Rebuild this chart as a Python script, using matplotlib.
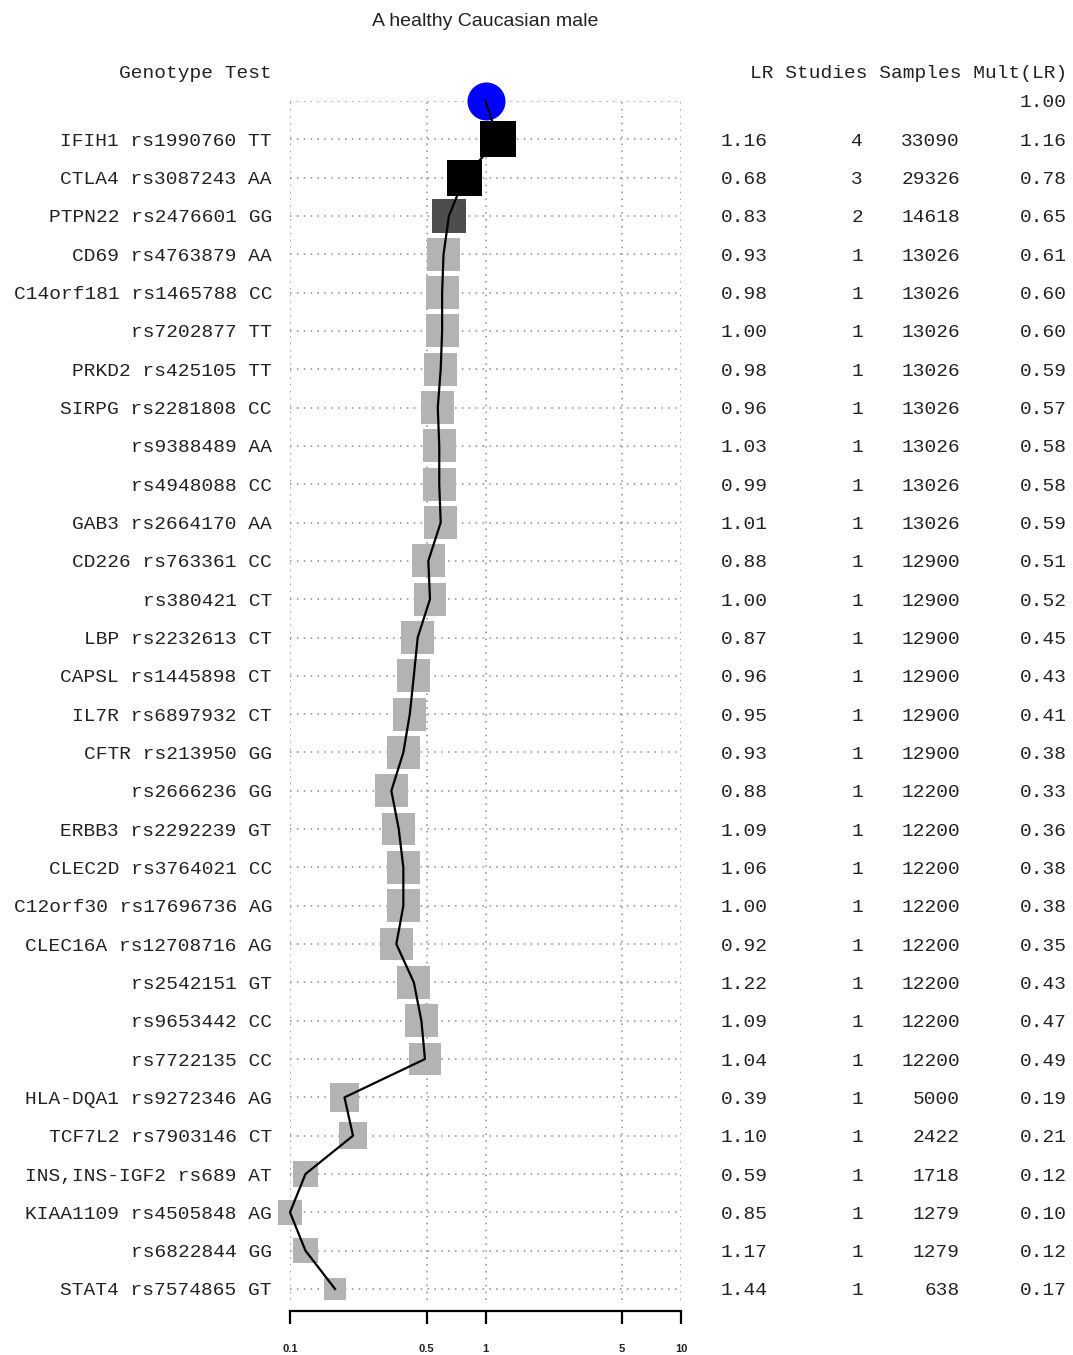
import numpy as np
import matplotlib.pyplot as plt
import matplotlib.transforms as mtransforms

genes = ["IFIH1", "CTLA4", "PTPN22", "CD69", "C14orf181", "", "PRKD2", "SIRPG", "", "",
         "GAB3", "CD226", "", "LBP", "CAPSL", "IL7R", "CFTR", "", "ERBB3", "CLEC2D",
         "C12orf30", "CLEC16A", "", "", "", "HLA-DQA1", "TCF7L2", "INS,INS-IGF2", "KIAA1109", "",
         "STAT4"]
snps = ["rs1990760", "rs3087243", "rs2476601", "rs4763879", "rs1465788", "rs7202877", "rs425105",
        "rs2281808", "rs9388489", "rs4948088", "rs2664170", "rs763361", "rs380421", "rs2232613",
        "rs1445898", "rs6897932", "rs213950", "rs2666236", "rs2292239", "rs3764021", "rs17696736",
        "rs12708716", "rs2542151", "rs9653442", "rs7722135", "rs9272346", "rs7903146", "rs689",
        "rs4505848", "rs6822844", "rs7574865"]
genotypes = ["TT", "AA", "GG", "AA", "CC", "TT", "TT", "CC", "AA", "CC", "AA", "CC", "CT", "CT",
             "CT", "CT", "GG", "GG", "GT", "CC", "AG", "AG", "GT", "CC", "CC", "AG", "CT", "AT",
             "AG", "GG", "GT"]
lr = [1.16, 0.68, 0.83, 0.93, 0.98, 1.00, 0.98, 0.96, 1.03, 0.99, 1.01, 0.88, 1.00, 0.87, 0.96,
      0.95, 0.93, 0.88, 1.09, 1.06, 1.00, 0.92, 1.22, 1.09, 1.04, 0.39, 1.10, 0.59, 0.85, 1.17, 1.44]
studies = [4, 3, 2, 1, 1, 1, 1, 1, 1, 1, 1, 1, 1, 1, 1, 1, 1, 1, 1, 1, 1, 1, 1, 1, 1, 1, 1, 1, 1, 1, 1]
samples = [33090, 29326, 14618, 13026, 13026, 13026, 13026, 13026, 13026, 13026, 13026, 12900,
           12900, 12900, 12900, 12900, 12900, 12200, 12200, 12200, 12200, 12200, 12200, 12200,
           12200, 5000, 2422, 1718, 1279, 1279, 638]
mult = [1.16, 0.78, 0.65, 0.61, 0.60, 0.60, 0.59, 0.57, 0.58, 0.58, 0.59, 0.51, 0.52, 0.45, 0.43,
        0.41, 0.38, 0.33, 0.36, 0.38, 0.38, 0.35, 0.43, 0.47, 0.49, 0.19, 0.21, 0.12, 0.10, 0.12,
        0.17]
prior = 1.00
ticks = [0.1, 0.5, 1, 5, 10]
tick_labels = ["0.1", "0.5", "1", "5", "10"]

W, H = 1073, 1355
fig = plt.figure(figsize=(W / 100, H / 100), dpi=100)

# plot area in pixels
left, right, top, bottom = 290, 681, 101, 1300
ax = fig.add_axes([left / W, 1 - bottom / H, (right - left) / W, (bottom - top) / H])
ax.set_xscale("log")
ax.set_xlim(0.1, 10)
n = len(snps)
row_px = (1289 - 140) / (n - 1)
ax.set_ylim((bottom - 140) / row_px, -1)

grid_kw = dict(color="#8c8c8c", linestyle=(0, (1, 3.5)), linewidth=1.1, zorder=0)
for t in ticks:
    ax.axvline(t, **grid_kw)
for i in range(-1, n):
    ax.axhline(i, **grid_kw)

rows = np.arange(n)
colors = ["black" if s >= 3 else ("#4d4d4d" if s == 2 else "#b3b3b3") for s in studies]
side_px = 8 * np.log10(samples)
ax.scatter(mult, rows, marker="s", s=(side_px * 0.72) ** 2, c=colors, linewidths=0, zorder=2,
           clip_on=False)
ax.scatter([prior], [-1], marker="o", s=(38 * 0.72) ** 2, c="#0000ff", linewidths=0, zorder=2,
           clip_on=False)
ax.plot([prior] + mult, [-1] + list(rows), color="black", linewidth=1.6, zorder=3,
        clip_on=False)

for sp in ["top", "right", "left"]:
    ax.spines[sp].set_visible(False)
ax.spines["bottom"].set_position(("outward", 8))
ax.spines["bottom"].set_linewidth(1.6)
ax.set_yticks([])
ax.set_xticks(ticks)
ax.set_xticks([], minor=True)
ax.set_xticklabels(tick_labels, fontsize=8, fontweight="bold", family="Liberation Sans",
                   color="#222222")
ax.tick_params(axis="x", direction="out", length=9.5, width=1.6, pad=14)

# text columns
mono = dict(family="Liberation Mono", fontsize=14, color="#222222", va="center")
tr = mtransforms.blended_transform_factory(fig.transFigure, ax.transData)
tr = mtransforms.offset_copy(tr, fig=fig, y=-2, units="dots")
for i in range(n):
    label = (genes[i] + " " if genes[i] else "") + snps[i] + " " + genotypes[i]
    fig.text(272 / W, i, label, ha="right", transform=tr, **mono)
    fig.text(768 / W, i, "%.2f" % lr[i], ha="right", transform=tr, **mono)
    fig.text(863 / W, i, str(studies[i]), ha="right", transform=tr, **mono)
    fig.text(960 / W, i, str(samples[i]), ha="right", transform=tr, **mono)
    fig.text(1067 / W, i, "%.2f" % mult[i], ha="right", transform=tr, **mono)
fig.text(1067 / W, -1, "%.2f" % prior, ha="right", transform=tr, **mono)

fig.text(272 / W, 1 - 74 / H, "Genotype Test", ha="right", **mono)
fig.text(1067 / W, 1 - 74 / H, "LR Studies Samples Mult(LR)", ha="right", **mono)
fig.text(485 / W, 1 - 22 / H, "A healthy Caucasian male", ha="center", va="center",
         family="Liberation Sans", fontsize=14, color="#222222")

fig.savefig("out.png", dpi=100, facecolor="white")
